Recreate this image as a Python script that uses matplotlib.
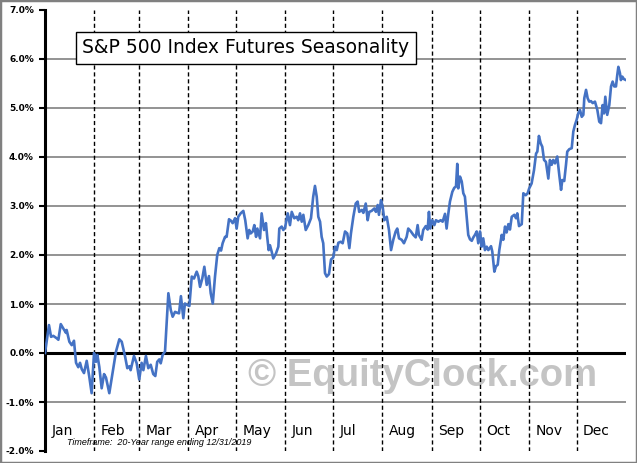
import matplotlib
matplotlib.use("Agg")
import matplotlib.pyplot as plt
from matplotlib.patches import Rectangle

# average seasonal return (%) vs. day of year
days = [
    0.0, 2.5, 3.8, 5.2, 7.4, 8.4, 9.9, 11.5, 13.2, 13.6, 15.3, 16.8, 18.2, 19.5, 20.9, 22.0,
    23.1, 24.5, 26.2, 27.8, 29.3, 30.8, 32.0, 32.9, 34.1, 35.6, 37.1, 38.3, 40.4, 42.9, 44.6,
    46.7, 48.2, 50.3, 51.7, 53.0, 53.8, 55.9, 57.6, 59.2, 60.7, 61.8, 63.4, 64.9, 66.4, 68.0,
    69.3, 70.5, 71.8, 72.7, 73.9, 75.4, 76.5, 77.5,
    79.0, 80.2, 81.7, 83.1, 84.2, 85.4, 86.9, 87.9, 89.4, 90.7, 92.2, 93.6, 95.3, 96.3, 97.4,
    98.8, 100.1, 101.6, 103.0, 104.1, 105.4, 106.8, 108.2, 109.5, 110.6, 111.6, 113.1, 114.1,
    115.6, 116.8, 117.9, 119.4, 120.4, 121.4, 122.9, 124.6, 125.8, 127.3, 128.3, 129.2, 130.5,
    131.5, 132.6, 133.4, 135.1, 136.1, 137.6, 138.8, 139.6, 140.5, 141.3, 142.4, 143.4, 145.1,
    146.6, 147.2, 148.7, 149.7, 150.8,
    152.5, 153.9, 155.0, 156.6, 158.1, 159.1, 160.2, 161.3, 162.3, 163.8, 165.4, 167.1, 168.5,
    169.6, 170.7, 171.7, 172.8, 173.8, 174.8, 175.9, 177.0, 178.4, 179.7, 181.1, 182.2, 183.3,
    184.3, 185.8, 187.0, 188.5, 189.9, 191.2, 192.2, 193.7, 195.2, 196.4, 197.4, 199.0, 200.0,
    201.5, 202.7, 203.7, 205.2, 206.9, 207.9, 209.0, 209.8, 211.1, 212.1, 213.2, 214.7, 216.1,
    217.4, 218.8, 220.3, 221.3, 222.4, 224.1, 225.5, 227.2,
    228.2, 229.9, 231.4, 232.9, 234.1, 234.9, 236.6, 237.6, 239.2, 240.4, 241.2, 242.0, 243.3,
    244.6, 245.6, 247.1, 248.6, 249.8, 251.3, 252.3, 253.4, 254.4, 255.9, 257.1, 258.2, 259.0,
    259.6, 260.7, 261.8, 262.8, 263.8, 264.9, 265.9, 267.0, 268.1, 269.1, 270.1, 271.2, 272.2,
    273.3, 274.3, 275.3, 276.4, 277.5, 278.5, 280.2, 281.0, 282.3, 283.3, 284.4, 285.4, 286.9,
    287.9, 289.0, 290.0, 291.1, 292.1, 293.2, 294.8, 295.9, 296.7, 297.8, 299.5, 300.5,
    302.0, 303.2, 304.2, 305.7, 307.2, 308.5, 309.3, 310.3, 311.4, 312.4, 313.5, 314.7, 316.2,
    317.2, 318.3, 319.3, 320.4, 321.8, 323.1, 324.2, 325.0, 326.2, 327.3, 328.1, 329.4, 330.9,
    331.9, 332.9, 334.0, 335.0, 336.1, 337.2, 338.2, 338.8, 339.9, 340.9, 341.9, 343.0, 344.1,
    345.5, 347.0, 348.2, 349.3, 350.3, 351.2, 352.0, 353.2, 354.5, 355.6, 356.6, 357.6, 358.7,
    359.5, 360.2, 361.2, 361.8, 362.7, 363.7, 365.0,
]
returns = [
    0.00, 0.57, 0.33, 0.35, 0.30, 0.27, 0.59, 0.50, 0.41, 0.47, 0.23, 0.16, 0.25, -0.20, -0.29, -0.20,
    -0.33, -0.41, -0.16, -0.48, -0.82, 0.00, -0.18, -0.04, -0.28, -0.72, -0.43, -0.50, -0.82, -0.31, 0.03,
    0.28, 0.23, -0.07, -0.31, -0.27, -0.35, -0.06, -0.21, -0.54, -0.20, -0.35, -0.06, -0.31, -0.24, -0.43,
    -0.47, -0.18, -0.13, -0.21, -0.04, 0.03, 0.64, 1.22,
    0.88, 0.74, 0.84, 0.82, 0.81, 1.16, 0.71, 1.01, 0.98, 0.96, 1.56, 1.52, 1.66, 1.57, 1.35,
    1.52, 1.76, 1.39, 1.57, 1.22, 1.01, 1.56, 2.00, 2.14, 2.09, 2.24, 2.37, 2.37,
    2.73, 2.70, 2.65, 2.75, 2.54, 2.78, 2.85, 2.90, 2.71, 2.34, 2.51, 2.44, 2.48,
    2.61, 2.37, 2.54, 2.34, 2.85, 2.51, 2.65, 2.37, 2.10, 2.20, 2.07, 1.93, 2.03,
    2.17, 2.54, 2.58, 2.51, 2.56,
    2.85, 2.61, 2.88, 2.75, 2.78, 2.71, 2.85, 2.68, 2.82, 2.51, 2.61, 2.75, 3.19,
    3.41, 3.19, 2.78, 2.68, 2.37, 2.24, 1.63, 1.56, 1.61, 1.91, 1.95, 2.17, 2.10,
    2.25, 2.27, 2.24, 2.48, 2.44, 2.14, 2.44, 2.78, 3.05, 3.09, 2.88, 2.92, 2.86,
    3.05, 2.71, 2.88, 2.90, 2.95, 2.88, 3.02, 2.82, 3.12, 2.99, 2.71, 2.78, 2.51,
    2.10, 2.31, 2.48, 2.54, 2.34, 2.31, 2.24, 2.37,
    2.54, 2.48, 2.41, 2.36, 2.61, 2.41, 2.31, 2.51, 2.59, 2.52, 2.88, 2.54, 2.71,
    2.61, 2.71, 2.68, 2.71, 2.68, 2.84, 2.54, 2.85, 3.09, 3.29, 3.37, 3.40, 3.86,
    3.36, 3.60, 3.50, 3.26, 3.19, 2.78, 2.41, 2.32, 2.29, 2.36, 2.41, 2.48, 2.24,
    2.48, 2.17, 2.34, 2.10, 2.17, 2.10, 2.18, 2.07, 1.66, 1.77, 1.80, 2.10, 2.41,
    2.31, 2.58, 2.46, 2.63, 2.52, 2.78, 2.82, 2.75, 2.85, 2.59, 2.63, 3.26,
    3.22, 3.26, 3.36, 3.46, 3.73, 4.07, 4.11, 4.43, 4.28, 4.21, 3.94, 3.90, 3.56,
    3.94, 3.84, 3.94, 3.87, 4.01, 3.63, 3.33, 3.53, 3.51, 3.84, 4.11, 4.16, 4.18,
    4.52, 4.65, 4.76, 4.89, 4.96, 4.82, 4.86, 5.20, 5.37, 5.20, 5.13, 5.14, 5.10,
    5.13, 4.96, 4.72, 4.69, 5.06, 4.89, 5.23, 4.86, 5.06, 5.44, 5.54, 5.44, 5.44,
    5.67, 5.84, 5.71, 5.57, 5.64, 5.59, 5.57,
]

months = ["Jan", "Feb", "Mar", "Apr", "May", "Jun", "Jul", "Aug", "Sep", "Oct", "Nov", "Dec"]
month_starts = [0, 31, 59, 90, 120, 151, 181, 212, 243, 273, 304, 334]
yticks = [-2, -1, 0, 1, 2, 3, 4, 5, 6, 7]

fig = plt.figure(figsize=(6.37, 4.63), dpi=100)
ax = fig.add_axes([45 / 637, 1 - 451 / 463, 581 / 637, 441 / 463])
ax.set_xlim(0, 365)
ax.set_ylim(-2, 7)

# horizontal grid (skip the -2/7 edges), black zero line
for y in yticks[1:-1]:
    if y == 0:
        ax.axhline(0, color="black", lw=2.2, zorder=3)
    else:
        ax.axhline(y, color="#808080", lw=1.2, zorder=1)

for d in month_starts[1:]:
    ax.axvline(d, color="black", lw=1, ls=(0, (3, 2)), zorder=4)

ax.plot(days, returns, color="#4472C4", lw=1.9, zorder=5)

for name, d in zip(months, month_starts):
    ax.text(d + 4, -1.6, name, fontsize=10, ha="left", va="center", zorder=6)

ax.text(14, -1.82, "Timeframe:  20-Year range ending 12/31/2019", fontsize=6.5,
        family="Liberation Sans", style="italic", ha="left", va="center", zorder=6)

ax.text(0.649, 0.17, "\u00a9 EquityClock.com", transform=ax.transAxes, fontsize=27.5,
        family="Liberation Sans", weight="bold", color="#c4c4c4",
        ha="center", va="center", zorder=2)

ax.text(0.346, 0.914, "S&P 500 Index Futures Seasonality", transform=ax.transAxes,
        fontsize=13.5, ha="center", va="center", zorder=7,
        bbox=dict(boxstyle="square,pad=0.33", fc="white", ec="black", lw=1))

ax.set_yticks(yticks)
ax.set_yticklabels([f"{y:.1f}%" for y in yticks], fontsize=6.5, weight="bold")
ax.set_xticks([])
ax.tick_params(axis="y", length=4, width=1.5, pad=4)
for s in ["top", "right", "bottom"]:
    ax.spines[s].set_visible(False)
ax.spines["left"].set_linewidth(2.2)

fig.patches.append(Rectangle((0, 0), 1, 1, transform=fig.transFigure, fill=False,
                             ec="#808080", lw=2.5))

fig.savefig("out.png", dpi=100)
